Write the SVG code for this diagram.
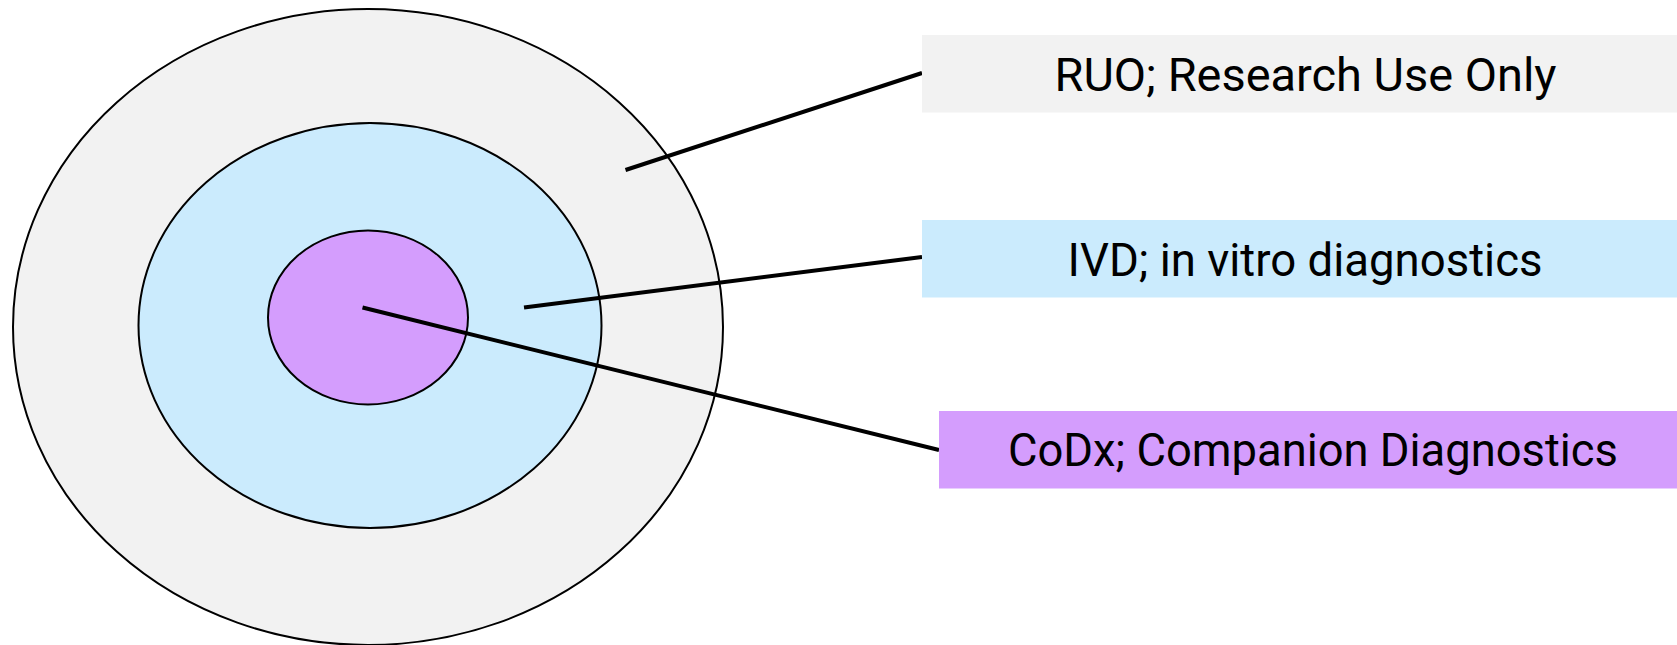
<svg xmlns="http://www.w3.org/2000/svg" width="1677" height="645" viewBox="0 0 1677 645">
  <style>
    .ring { stroke: #000; stroke-width: 2; }
    .ruo { fill: #f2f2f2; }
    .ivd { fill: #cbebfd; }
    .codx { fill: #d49dfd; }
    .lead { stroke: #000; stroke-width: 4; fill: none; stroke-linecap: butt; }
    .label { font-family: Roboto, "Liberation Sans", Arial, sans-serif; font-size: 47px; fill: #000; text-anchor: middle; }
  </style>
  <rect width="1677" height="645" fill="#fff"/>

  <!-- concentric scope rings -->
  <g id="ring-ruo"><ellipse class="ring ruo" cx="368" cy="327" rx="355" ry="318"/></g>
  <g id="ring-ivd"><ellipse class="ring ivd" cx="370" cy="325.5" rx="231.5" ry="202.5"/></g>
  <g id="ring-codx"><ellipse class="ring codx" cx="368" cy="317.5" rx="100" ry="87"/></g>

  <!-- leader lines from rings to labels -->
  <g id="connectors">
    <line class="lead" x1="625.5" y1="170" x2="922" y2="73"/>
    <line class="lead" x1="524" y1="307.5" x2="922" y2="257"/>
    <line class="lead" x1="362.5" y1="307.5" x2="939" y2="450"/>
  </g>

  <!-- labels -->
  <g id="label-ruo">
    <rect class="ruo" x="922" y="35" width="755" height="77.5"/>
    <text class="label" x="1305.5" y="90.5" textLength="502" lengthAdjust="spacingAndGlyphs">RUO; Research Use Only</text>
  </g>
  <g id="label-ivd">
    <rect class="ivd" x="922" y="220" width="755" height="77.5"/>
    <text class="label" x="1305" y="275.5" textLength="475" lengthAdjust="spacingAndGlyphs">IVD; in vitro diagnostics</text>
  </g>
  <g id="label-codx">
    <rect class="codx" x="939" y="411" width="738" height="77.5"/>
    <text class="label" x="1313" y="465.5" textLength="610" lengthAdjust="spacingAndGlyphs">CoDx; Companion Diagnostics</text>
  </g>
</svg>
